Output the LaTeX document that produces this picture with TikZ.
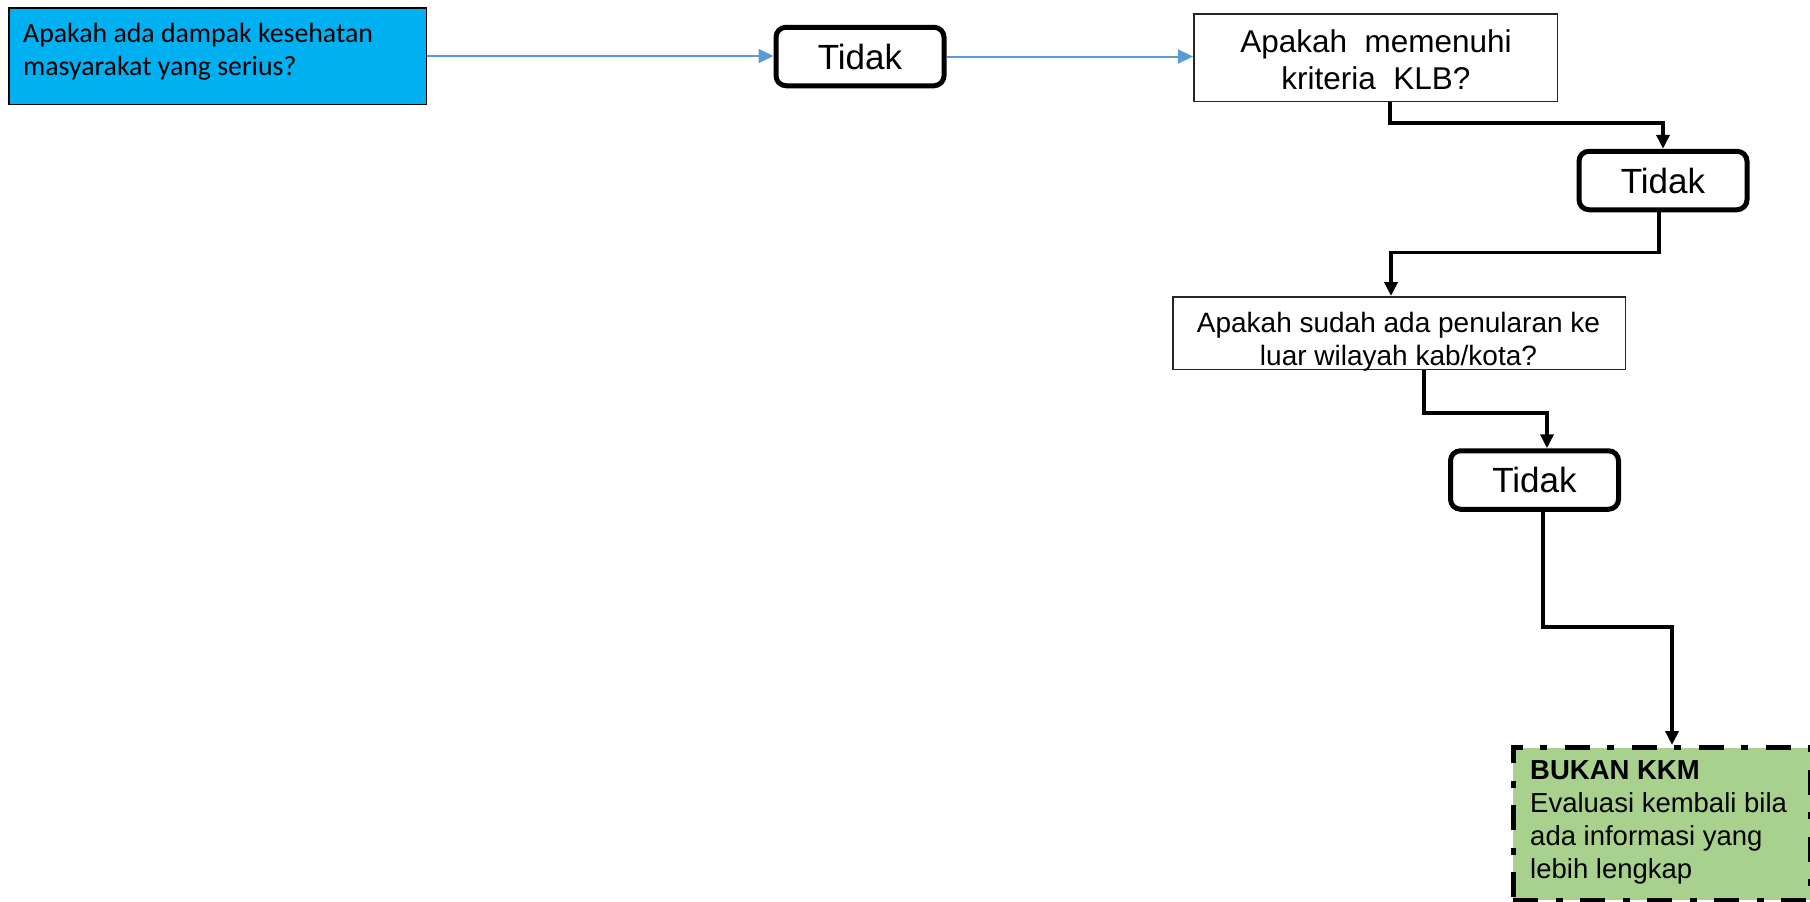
\documentclass[tikz,border=0pt]{standalone}
\usepackage{fontspec}
\setmainfont{Liberation Sans}
\newfontfamily\calibrifont{Carlito}
\usetikzlibrary{arrows.meta}

\definecolor{startblue}{HTML}{00B0F0}
\definecolor{linkblue}{HTML}{5B9BD5}
\definecolor{endgreen}{HTML}{A9D18E}

\tikzset{
  startbox/.style={draw=black, line width=1.5pt, fill=startblue, inner sep=0pt},
  qbox/.style={draw=black!85, line width=1.5pt, fill=white, inner sep=0pt},
  answer/.style={draw=black, line width=5pt, rounded corners=10pt, fill=white,
    minimum width=168pt, minimum height=58.5pt, inner sep=0pt,
    font={\fontsize{35}{40}\selectfont}},
  endbox/.style={draw=black, line width=5pt, fill=endgreen, inner sep=0pt,
    dash pattern=on 25pt off 18pt on 7pt off 17pt},
  blink/.style={draw=linkblue, line width=2pt,
    -{Triangle[length=15pt,width=14pt]}, color=linkblue},
  klink/.style={draw=black, line width=3.5pt,
    -{Triangle[length=14pt,width=13pt]}},
  plain/.style={inner sep=0pt}
}

\begin{document}
\begin{tikzpicture}[x=1pt,y=-1pt]
\useasboundingbox (0,0) rectangle (1810,902);

% question boxes
\node[startbox, minimum width=417.5pt, minimum height=96.5pt] (q1) at (217.5,56) {};
\node[plain, anchor=north west, align=left,
      font={\calibrifont\fontsize{27.8}{33}\selectfont}] (q1t) at (23,22.5)
  {Apakah ada dampak kesehatan\\masyarakat yang serius?};

\node[qbox, minimum width=363.5pt, minimum height=87.5pt] (q2) at (1375.5,57.5) {};
\node[plain, anchor=north, align=center,
      font={\fontsize{31.5}{37}\selectfont}] (q2t) at (1376,29.5)
  {Apakah\ \ memenuhi\\kriteria\ \ KLB?};

\node[qbox, minimum width=452.5pt, minimum height=72.5pt] (q3) at (1399,333) {};
\node[plain, anchor=north, align=center,
      font={\fontsize{28}{33}\selectfont}] (q3t) at (1398.5,312)
  {Apakah sudah ada penularan ke\\luar wilayah kab/kota?};

% answers
\node[answer] (a1) at (860,56.5) {Tidak};
\node[answer] (a2) at (1663,180.5) {Tidak};
\node[answer] (a3) at (1534.5,480) {Tidak};

% outcome
\node[endbox, minimum width=297pt, minimum height=152.5pt] (res) at (1661.5,823.75) {};
\node[plain, anchor=north west, align=left,
      font={\fontsize{27.5}{33}\selectfont}] (rest) at (1530,760.5)
  {\textbf{BUKAN KKM}\\Evaluasi kembali bila\\ada informasi yang\\lebih lengkap};

% connectors
\draw[blink] (q1.east) -- (q1.east -| a1.west);
\draw[blink] (a1.east) -- (a1.east -| q2.west);

\draw[klink] ([xshift=14.5pt]q2.south) -- ++(0,21) -| (a2.north);
\draw[klink] ([xshift=-4pt]a2.south) -- ++(0,40) -| ([xshift=-8pt]q3.north);
\draw[klink] ([xshift=25pt]q3.south) -- ++(0,43) -| ([xshift=12.5pt]a3.north);
\draw[klink] ([xshift=8.5pt]a3.south) -- ++(0,115) -| ([xshift=10.5pt]res.north);
\end{tikzpicture}
\end{document}
